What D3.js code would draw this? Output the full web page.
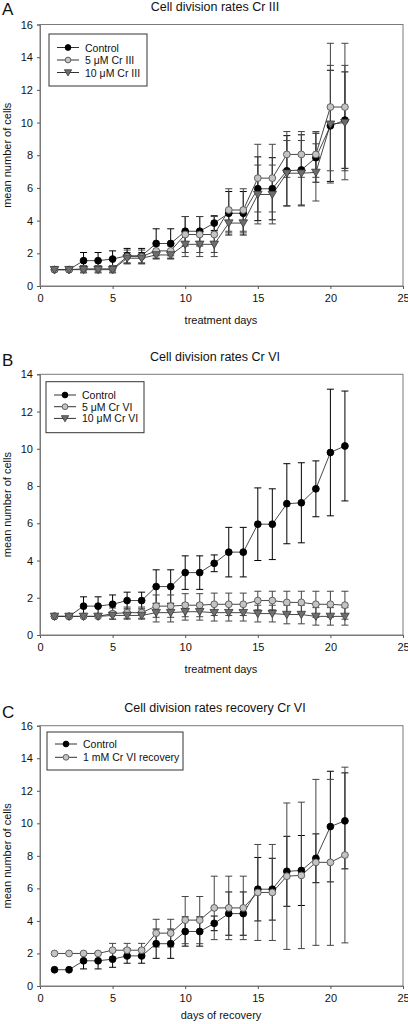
<!DOCTYPE html>
<html><head><meta charset="utf-8">
<script src="https://cdn.jsdelivr.net/npm/d3@7"></script>
<style>
body{margin:0;background:#fff;}
svg{display:block;font-family:Arial,"Liberation Sans",sans-serif;}
</style></head>
<body><svg id="c" width="408" height="1024"></svg>
<script>
const days = [1,2,3,4,5,6,7,8,9,10,11,12,13,14,15,16,17,18,19,20,21];

const controlMean = [1.0,1.0,1.55,1.55,1.65,1.85,1.85,2.6,2.6,3.35,3.35,3.85,4.45,4.45,5.95,5.95,7.05,7.1,7.85,9.8,10.15];
const controlErr  = [0,0,0.5,0.5,0.5,0.45,0.45,0.9,0.9,0.9,0.9,0.45,1.33,1.33,1.95,1.9,2.15,2.15,1.5,3.4,2.95];

const cr3Low  = [1.0,1.0,1.05,1.05,1.05,1.8,1.8,2.15,2.15,3.15,3.15,3.15,4.65,4.65,6.6,6.6,8.05,8.05,8.05,10.95,10.95];
const cr3LowErr = [0,0,0.2,0.2,0.2,0.4,0.4,0.3,0.3,1.1,1.1,1.1,1.3,1.3,2.07,2.07,1.4,1.4,1.4,3.9,3.9];
const cr3High = [1.0,1.0,1.0,1.0,1.0,1.7,1.7,1.9,1.9,2.55,2.55,2.55,3.85,3.85,5.6,5.6,6.9,6.9,6.95,9.9,10.0];
const cr3HighErr = [0,0,0.2,0.2,0.2,0.35,0.35,0.25,0.25,0.75,0.75,0.75,0.6,0.6,1.8,1.8,2.0,2.0,1.75,3.6,3.5];

const cr6Low  = [1.0,1.0,1.0,1.0,1.15,1.2,1.2,1.55,1.55,1.6,1.6,1.65,1.65,1.65,1.85,1.85,1.75,1.75,1.65,1.65,1.6];
const cr6LowErr = [0,0,0,0,0.3,0.3,0.3,0.6,0.6,0.62,0.62,0.6,0.6,0.6,0.5,0.5,0.6,0.6,0.7,0.7,0.75];
const cr6High = [1.0,1.0,1.0,1.0,1.05,1.05,1.05,1.2,1.2,1.25,1.25,1.2,1.2,1.2,1.15,1.15,1.1,1.1,1.0,1.0,1.0];
const cr6HighErr = [0,0,0,0,0.2,0.2,0.2,0.5,0.5,0.45,0.45,0.45,0.45,0.45,0.45,0.45,0.5,0.5,0.47,0.47,0.47];

const recovery = [2.0,2.0,2.0,2.0,2.2,2.2,2.2,3.25,3.25,4.05,4.05,4.8,4.8,4.8,5.75,5.75,6.75,6.8,7.6,7.6,8.05];
const recoveryErr = [0,0,0,0,0.42,0.42,0.42,0.85,0.85,1.45,1.45,1.95,1.95,1.95,2.95,2.95,4.5,4.5,5.1,5.1,5.4];

const xTicks = [0,5,10,15,20,25];
const yTicksA = [0,2,4,6,8,10,12,14,16];
const yTicksB = [0,2,4,6,8,10,12,14];
const yTicksC = [0,2,4,6,8,10,12,14,16];

const titles = ["Cell division rates Cr III","Cell division rates Cr VI","Cell division rates recovery Cr VI"];
const panelLetters = ["A","B","C"];
const xTitles = ["treatment days","treatment days","days of recovery"];
const yTitle = "mean number of cells";
const legendA = ["Control","5 μM Cr III","10 μM Cr III"];
const legendB = ["Control","5 μM Cr VI","10 μM Cr VI"];
const legendC = ["Control","1 mM Cr VI recovery"];

const svg = d3.select("#c");
const X0 = 40, X1 = 403;

const styles = {
  control: {shape:"circle", fill:"#000", stroke:"#000", err:"#000"},
  gray: {shape:"circle", fill:"#c4c4c4", stroke:"#555", err:"#444"},
  tri: {shape:"tri", fill:"#6e6e6e", stroke:"#3a3a3a", err:"#444"}
};

function marker(g, st, x, y, k){
  k = k || 1;
  if(st.shape==="circle"){
    g.append("circle").attr("cx",x).attr("cy",y).attr("r",3.4*k)
     .attr("fill",st.fill).attr("stroke",st.stroke).attr("stroke-width",0.9);
  } else {
    const s=4.3*k;
    g.append("path").attr("d",`M${x-s},${y-s*0.75}L${x+s},${y-s*0.75}L${x},${y+s*0.95}Z`)
     .attr("fill",st.fill).attr("stroke",st.stroke).attr("stroke-width",0.8);
  }
}

function panel(cfg){
  const g = svg.append("g");
  const x = d3.scaleLinear().domain([0,25]).range([X0,X1]);
  const y = d3.scaleLinear().domain([0,cfg.ymax]).range([cfg.y0,cfg.ytop]);

  g.append("rect").attr("x",X0).attr("y",cfg.ytop).attr("width",X1-X0).attr("height",cfg.y0-cfg.ytop)
   .attr("fill","none").attr("stroke","#7a7a7a").attr("stroke-width",1);

  const xa = g.append("g").attr("transform",`translate(0,${cfg.y0})`)
    .call(d3.axisBottom(x).tickValues(xTicks).tickSize(3).tickPadding(5).tickFormat(d3.format("d")));
  const ya = g.append("g").attr("transform",`translate(${X0},0)`)
    .call(d3.axisLeft(y).tickValues(cfg.yTicks).tickSize(3).tickPadding(4).tickFormat(d3.format("d")));
  [xa,ya].forEach(a=>{
    a.select(".domain").attr("stroke","#7a7a7a");
    a.selectAll(".tick line").attr("stroke","#555");
    a.selectAll(".tick text").attr("fill","#111").style("font-size","11px");
  });

  g.append("text").attr("x",215).attr("y",cfg.titleY).attr("text-anchor","middle")
   .style("font-size","12.5px").attr("fill","#111").text(cfg.title);
  g.append("text").attr("x",2).attr("y",cfg.letterY).style("font-size","17px").attr("fill","#111").text(cfg.letter);
  g.append("text").attr("x",221).attr("y",cfg.xTitleY).attr("text-anchor","middle")
   .style("font-size","11px").attr("fill","#111").text(cfg.xTitle);
  g.append("text").attr("transform",`translate(11,${(cfg.y0+cfg.ytop)/2}) rotate(-90)`)
   .attr("text-anchor","middle").style("font-size","11px").attr("fill","#111").text(yTitle);

  cfg.series.forEach(s=>{
    const st = styles[s.style];
    const eg = g.append("g").attr("stroke",st.err).attr("stroke-width",1).attr("fill","none");
    days.forEach((d,i)=>{
      const e = s.err[i];
      if(e<=0) return;
      const cx = x(d), yt = y(s.mean[i]+e), yb = y(s.mean[i]-e);
      eg.append("line").attr("x1",cx).attr("x2",cx).attr("y1",yt).attr("y2",yb);
      eg.append("line").attr("x1",cx-3.5).attr("x2",cx+3.5).attr("y1",yt).attr("y2",yt);
      eg.append("line").attr("x1",cx-3.5).attr("x2",cx+3.5).attr("y1",yb).attr("y2",yb);
    });
  });
  const line = d3.line().x((d,i)=>x(days[i])).y(d=>y(d));
  cfg.series.forEach(s=>{
    g.append("path").attr("d",line(s.mean)).attr("fill","none").attr("stroke","#333").attr("stroke-width",0.9);
  });
  cfg.series.forEach(s=>{
    const mg = g.append("g");
    days.forEach((d,i)=>marker(mg, styles[s.style], x(d), y(s.mean[i])));
  });

  const L = cfg.legend;
  g.append("rect").attr("x",L.x).attr("y",L.y).attr("width",L.w).attr("height",L.h)
   .attr("fill","#fff").attr("stroke","#333").attr("stroke-width",1);
  cfg.series.forEach((s,i)=>{
    const ly = L.y + L.first + i*L.step;
    g.append("line").attr("x1",L.x+8).attr("x2",L.x+30).attr("y1",ly).attr("y2",ly)
     .attr("stroke","#333").attr("stroke-width",1);
    marker(g, styles[s.style], L.x+19, ly, 0.85);
    g.append("text").attr("x",L.x+36).attr("y",ly+4).style("font-size","10.5px").attr("fill","#111").text(L.labels[i]);
  });
}

panel({ymax:16, y0:286, ytop:24.5, yTicks:yTicksA, title:titles[0], titleY:11, letter:panelLetters[0], letterY:15,
  xTitle:xTitles[0], xTitleY:324,
  series:[{mean:controlMean,err:controlErr,style:"control"},{mean:cr3Low,err:cr3LowErr,style:"gray"},{mean:cr3High,err:cr3HighErr,style:"tri"}],
  legend:{x:49,y:34,w:98,h:52,first:13.5,step:12.5,labels:legendA}});

panel({ymax:14, y0:635, ytop:374.3, yTicks:yTicksB, title:titles[1], titleY:361, letter:panelLetters[1], letterY:366,
  xTitle:xTitles[1], xTitleY:673,
  series:[{mean:controlMean,err:controlErr,style:"control"},{mean:cr6Low,err:cr6LowErr,style:"gray"},{mean:cr6High,err:cr6HighErr,style:"tri"}],
  legend:{x:46,y:381.7,w:98,h:51,first:13.3,step:11.7,labels:legendB}});

panel({ymax:16, y0:986, ytop:725.7, yTicks:yTicksC, title:titles[2], titleY:712, letter:panelLetters[2], letterY:718,
  xTitle:xTitles[2], xTitleY:1019,
  series:[{mean:controlMean,err:controlErr,style:"control"},{mean:recovery,err:recoveryErr,style:"gray"}],
  legend:{x:47,y:732,w:136,h:38,first:12,step:13.3,labels:legendC}});
</script></body></html>
